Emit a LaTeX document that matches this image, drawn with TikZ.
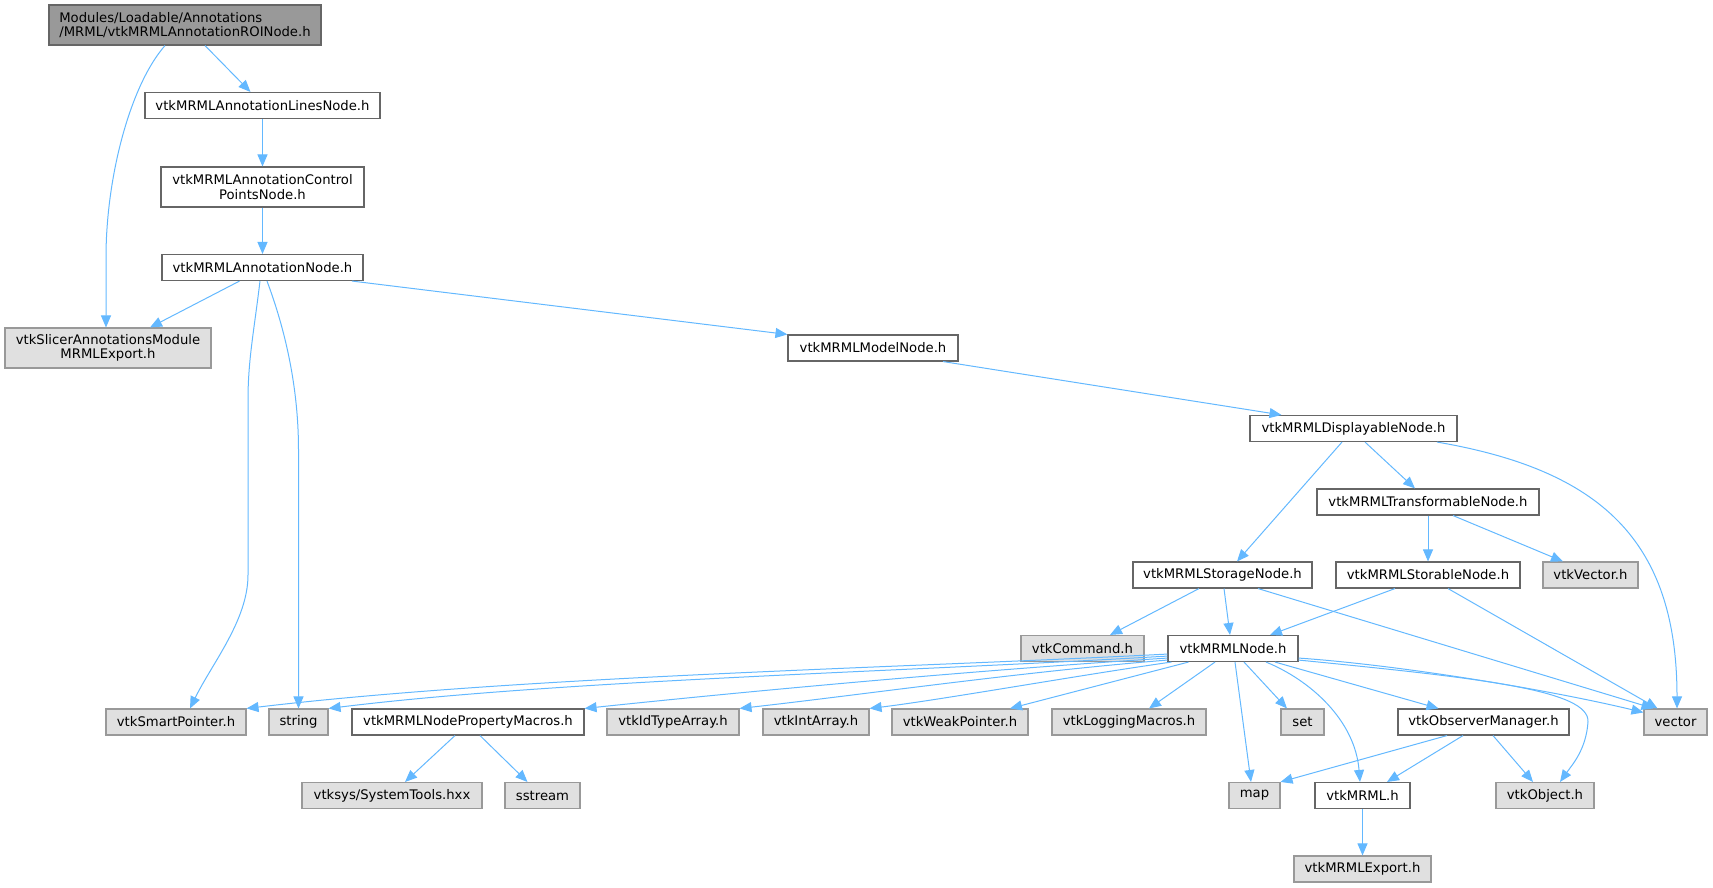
\documentclass[tikz,border=0pt]{standalone}
\usepackage{fontspec}
\setmainfont{DejaVu Sans}
\usetikzlibrary{arrows.meta}
\definecolor{edgeblue}{HTML}{63B8FF}
\definecolor{bordark}{HTML}{666666}
\definecolor{borlight}{HTML}{999999}
\definecolor{fillgrey}{HTML}{E0E0E0}
\definecolor{rootfill}{HTML}{999999}
\tikzset{
  box/.style={draw=bordark, fill=white, line width=1.1pt, minimum height=26pt,
    inner sep=0pt, anchor=center, align=center,
    font=\fontsize{13.2}{14.6}\selectfont},
  ext/.style={box, draw=borlight, fill=fillgrey},
  rootbox/.style={box, fill=rootfill, minimum height=40pt, align=left},
  dep/.style={draw=edgeblue, line width=1pt, -{Triangle[length=12pt,width=10pt]}},
}
\begin{document}
\begin{tikzpicture}[x=1pt,y=-1pt]
\useasboundingbox (0,0) rectangle (1713,887);
% nodes
\node[rootbox, minimum width=272pt] (root) at (185,25) {Modules/Loadable/Annotations\\/MRML/vtkMRMLAnnotationROINode.h};
\node[box, minimum width=235pt] (lines) at (262.5,105.5) {vtkMRMLAnnotationLinesNode.h};
\node[box, minimum width=203pt, minimum height=40pt] (cpn) at (262.5,187) {vtkMRMLAnnotationControl\\PointsNode.h};
\node[box, minimum width=201pt] (ann) at (262.5,267.5) {vtkMRMLAnnotationNode.h};
\node[ext, minimum width=206pt, minimum height=40pt] (slx) at (108,348) {vtkSlicerAnnotationsModule\\MRMLExport.h};
\node[box, minimum width=170pt] (model) at (873,348) {vtkMRMLModelNode.h};
\node[box, minimum width=207pt] (disp) at (1353.5,428.5) {vtkMRMLDisplayableNode.h};
\node[box, minimum width=222pt] (trans) at (1428,502) {vtkMRMLTransformableNode.h};
\node[box, minimum width=179pt] (storage) at (1222.5,575) {vtkMRMLStorageNode.h};
\node[box, minimum width=184pt] (storable) at (1428,575) {vtkMRMLStorableNode.h};
\node[ext, minimum width=95pt] (vvec) at (1590.5,575) {vtkVector.h};
\node[ext, minimum width=123pt] (cmd) at (1082.5,648.5) {vtkCommand.h};
\node[box, minimum width=130pt] (mnode) at (1233,648.5) {vtkMRMLNode.h};
\node[ext, minimum width=140pt] (sp) at (176,722) {vtkSmartPointer.h};
\node[ext, minimum width=59pt] (str) at (298.5,722) {string};
\node[box, minimum width=232pt] (macros) at (468,722) {vtkMRMLNodePropertyMacros.h};
\node[ext, minimum width=132pt] (idt) at (673,722) {vtkIdTypeArray.h};
\node[ext, minimum width=106pt] (inta) at (816,722) {vtkIntArray.h};
\node[ext, minimum width=136pt] (weak) at (960,722) {vtkWeakPointer.h};
\node[ext, minimum width=154pt] (logm) at (1129,722) {vtkLoggingMacros.h};
\node[ext, minimum width=43pt] (setn) at (1302.5,722) {set};
\node[box, minimum width=171pt] (obs) at (1483.5,722) {vtkObserverManager.h};
\node[ext, minimum width=63pt] (vec) at (1675.5,722) {vector};
\node[ext, minimum width=180pt] (sys) at (392,795.5) {vtksys/SystemTools.hxx};
\node[ext, minimum width=75pt] (sst) at (542.5,795.5) {sstream};
\node[ext, minimum width=51pt] (mapn) at (1254.5,795.5) {map};
\node[box, minimum width=95pt] (mrml) at (1362.5,795.5) {vtkMRML.h};
\node[ext, minimum width=98pt] (obj) at (1545,795.5) {vtkObject.h};
\node[ext, minimum width=137pt] (mexp) at (1362.5,869) {vtkMRMLExport.h};
% edges
\draw[dep] ([xshift=-20]root.south) .. controls +(-35,40) and +(0,-80) .. ([xshift=-2,yshift=70]slx.north) -- ([xshift=-2]slx.north);
\draw[dep] ([xshift=20]root.south) -- ([xshift=-12]lines.north);
\draw[dep] (lines.south) -- (cpn.north);
\draw[dep] (cpn.south) -- (ann.north);
\draw[dep] ([xshift=-23]ann.south) -- ([xshift=42]slx.north);
\draw[dep] ([xshift=-2.5]ann.south) .. controls +(-6,50) and +(0,-40) .. (248,400) -- (248,575) .. controls +(0,45) and +(22,-45) .. ([xshift=14]sp.north);
\draw[dep] ([xshift=4.5]ann.south) .. controls +(15,40) and +(0,-70) .. (298.5,450) -- (str.north);
\draw[dep] ([xshift=89.5]ann.south) -- (model.north west);
\draw[dep] ([xshift=70]model.south) -- ([xshift=-72]disp.north);
\draw[dep] ([xshift=-11.5]disp.south) -- ([xshift=14.5]storage.north);
\draw[dep] ([xshift=11.5]disp.south) -- ([xshift=-13]trans.north);
\draw[dep] ([xshift=83.5]disp.south) .. controls (1600,470) and (1677,540) .. ([xshift=1.5]vec.north);
\draw[dep] (trans.south) -- (storable.north);
\draw[dep] ([xshift=25]trans.south) -- ([xshift=-27.5]vvec.north);
\draw[dep] ([xshift=-23.5]storage.south) -- ([xshift=27.5]cmd.north);
\draw[dep] ([xshift=1.5]storage.south) -- ([xshift=-3]mnode.north);
\draw[dep] ([xshift=35.5]storage.south) -- ([xshift=-22]vec.north);
\draw[dep] ([xshift=-33]storable.south) -- ([xshift=37]mnode.north);
\draw[dep] ([xshift=20]storable.south) -- ([xshift=-18]vec.north);
% from vtkMRMLNode
\draw[dep] ([yshift=8]mnode.south west) .. controls (900,668) and (520,676) .. (sp.north east);
\draw[dep] ([yshift=6]mnode.south west) .. controls (900,672) and (560,680) .. (str.north east);
\draw[dep] ([yshift=4]mnode.south west) .. controls (980,670) and (760,690) .. (macros.north east);
\draw[dep] ([yshift=2]mnode.south west) .. controls (1020,672) and (860,695) .. (idt.north east);
\draw[dep] ([xshift=4]mnode.south west) .. controls (1080,675) and (940,700) .. (inta.north east);
\draw[dep] ([xshift=21]mnode.south west) -- ([xshift=50]weak.north);
\draw[dep] ([xshift=-18]mnode.south) -- ([xshift=20]logm.north);
\draw[dep] ([xshift=2]mnode.south) -- ([xshift=-3.5]mapn.north);
\draw[dep] ([xshift=11]mnode.south) -- ([xshift=-15.5]setn.north);
\draw[dep] ([xshift=33]mnode.south) .. controls (1310,680) and (1355,720) .. ([xshift=-2.5]mrml.north);
\draw[dep] ([xshift=42]mnode.south) -- ([xshift=-45]obs.north);
\draw[dep] ([yshift=4]mnode.south east) .. controls (1400,665) and (1550,690) .. ([yshift=-4]vec.north west);
\draw[dep] ([yshift=2]mnode.south east) .. controls (1480,678) and (1590,690) .. (1588,722) .. controls (1586,750) and (1572,765) .. ([xshift=15]obj.north);
\draw[dep] ([xshift=-36.5]obs.south) -- (mapn.north east);
\draw[dep] ([xshift=-20.5]obs.south) -- ([xshift=24.5]mrml.north);
\draw[dep] ([xshift=9.5]obs.south) -- ([xshift=-12]obj.north);
\draw[dep] (mrml.south) -- (mexp.north);
\draw[dep] ([xshift=-13]macros.south) -- ([xshift=13]sys.north);
\draw[dep] ([xshift=12]macros.south) -- ([xshift=-15]sst.north);
\end{tikzpicture}
\end{document}
